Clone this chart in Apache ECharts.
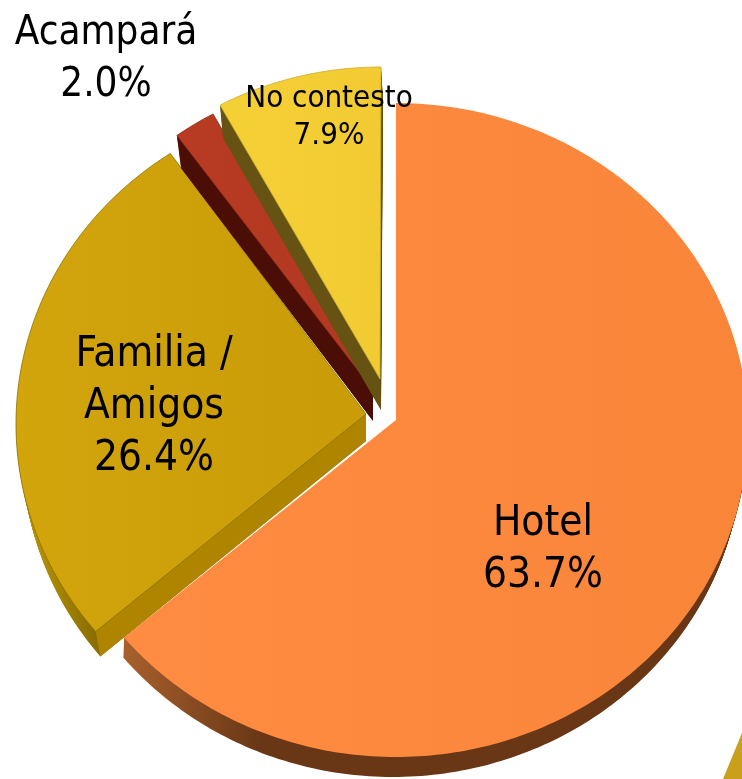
<!DOCTYPE html>
<html><head><meta charset="utf-8">
<style>html,body{margin:0;padding:0;background:#fff}#c{width:742px;height:779px}</style>
<script src="https://cdn.jsdelivr.net/npm/echarts@6/dist/echarts.min.js"></script>
</head><body><div id="c"></div>
<script>
const categories = ['Hotel', 'Familia /\nAmigos', 'Acampará', 'No contesto'];
const shares = [63.7, 26.4, 2.0, 7.9];

// Perspective layout of each exploded wedge (top face, lower face, small projected-angle correction in degrees)
const geometry = [
  {c:[396,430], r:[352,327], apex:[396,420], bc:[393,450], br:[349,327], bapex:[396,448], turn:[0,1.3], rimFrom:60},
  {c:[362,424], r:[346,325], apex:[366,414], bc:[362,449], br:[340,325], bapex:[366,441], turn:[1.0,2.0], rimFrom:0},
  {c:[375,398], r:[340,323], apex:[373,390], bc:[378,428], br:[338,320], bapex:[373,421], turn:[0,0], rimFrom:0},
  {c:[381,383], r:[338,316], apex:[380,379], bc:[383,412], br:[336,312], bapex:[381,410], turn:[0,0], rimFrom:0}
];
const lg = (stops) => new echarts.graphic.LinearGradient(0,0,1,0,stops.map((s,i)=>({offset:s[0],color:s[1]})));
const looks = [
  {top:lg([[0,'#FF8C42'],[1,'#F98539']]), rim:lg([[0,'#A8602C'],[0.22,'#693716'],[1,'#693716']]), edge:'#693716', line:'#D9743200'},
  {top:lg([[0,'#D2A50D'],[1,'#C99C08']]), rim:lg([[0,'#C09A08'],[0.25,'#826800'],[1,'#826800']]), edge:'#AF8500', line:'#8F7200'},
  {top:lg([[0,'#B83B22'],[1,'#B23822']]), rim:'#4A0E07', edge:'#4A0E07', line:'#8A2A18'},
  {top:lg([[0,'#F5D035'],[1,'#F2CB33']]), rim:'#665313', edge:'#665313', line:'#C9AC30'}
];
const labelSpots = [
  {x:543, y:550, size:42, lh:52},
  {x:154, y:407, size:42, lh:52},
  {x:106, y:60, size:40, lh:52},
  {x:329, y:117, size:31, lh:37}
];
const labelOf = (i) => categories[i] + '\n' + shares[i].toFixed(1) + '%';

const total = shares.reduce((a,b)=>a+b,0);
const deg = (v) => v / total * Math.PI * 2;

function outline(cx, cy, rx, ry, ax, ay, a0, a1) {
  const pts = [[ax, ay]], n = Math.max(4, Math.ceil((a1 - a0) * 60));
  for (let i = 0; i <= n; i++) {
    const t = a0 + (a1 - a0) * i / n;
    pts.push([cx + rx * Math.sin(t), cy - ry * Math.cos(t)]);
  }
  return pts;
}
const mix = (a, b, k) => a + (b - a) * k;

function renderItem(params, api) {
  const i = params.dataIndex, g = geometry[i], look = looks[i];
  let before = 0;
  for (let k = 0; k < i; k++) before += shares[k];
  const a0 = deg(before) + g.turn[0] * Math.PI / 180;
  const a1 = deg(before) + deg(api.value(0)) + g.turn[1] * Math.PI / 180;
  const rimStart = Math.max(a0, g.rimFrom * Math.PI / 180);
  const children = [];
  const steps = 26;
  for (let s = steps; s >= 1; s--) {
    const k = s / steps;
    children.push({type:'polygon', silent:true,
      shape:{points:outline(mix(g.c[0],g.bc[0],k), mix(g.c[1],g.bc[1],k), mix(g.r[0],g.br[0],k), mix(g.r[1],g.br[1],k),
        mix(g.apex[0],g.bapex[0],k), mix(g.apex[1],g.bapex[1],k), rimStart, a1)},
      style:{fill:look.rim, stroke:null}});
  }
  if (i > 0) {
    const tc = [g.c[0]+g.r[0]*Math.sin(a0), g.c[1]-g.r[1]*Math.cos(a0)];
    const bc = [g.bc[0]+g.br[0]*Math.sin(a0), g.bc[1]-g.br[1]*Math.cos(a0)];
    children.push({type:'polygon', silent:true, shape:{points:[g.apex, tc, bc, g.bapex]}, style:{fill:look.edge}});
  }
  children.push({type:'polygon', silent:true,
    shape:{points:outline(g.c[0],g.c[1],g.r[0],g.r[1],g.apex[0],g.apex[1],a0,a1)},
    style:{fill:look.top, stroke:look.line, lineWidth:0.8}});
  return {type:'group', children};
}
function renderLabel(params, api) {
  const i = params.dataIndex, s = labelSpots[i];
  return {type:'text', silent:true, x:s.x, y:s.y, z2:10,
    style:{text:labelOf(i), fill:'#000', align:'center', verticalAlign:'middle',
      font:s.size+'px "DejaVu Sans Condensed","DejaVu Sans",sans-serif', lineHeight:s.lh}};
}
const chart = echarts.init(document.getElementById('c'), null, {renderer:'canvas'});
chart.setOption({
  animation:false, backgroundColor:'#fff',
  xAxis:{show:false}, yAxis:{show:false},
  graphic:[{type:'polygon', silent:true, shape:{points:[[723,779],[742,733],[742,779]]}, style:{fill:'#C8A01C'}}],
  series:[
    {type:'custom', coordinateSystem:'none', renderItem, data:shares.map(v=>[v]), z:2, silent:true, clip:false},
    {type:'custom', coordinateSystem:'none', renderItem:renderLabel, data:shares.map(v=>[v]), z:3, silent:true, clip:false}
  ]
});
</script></body></html>
